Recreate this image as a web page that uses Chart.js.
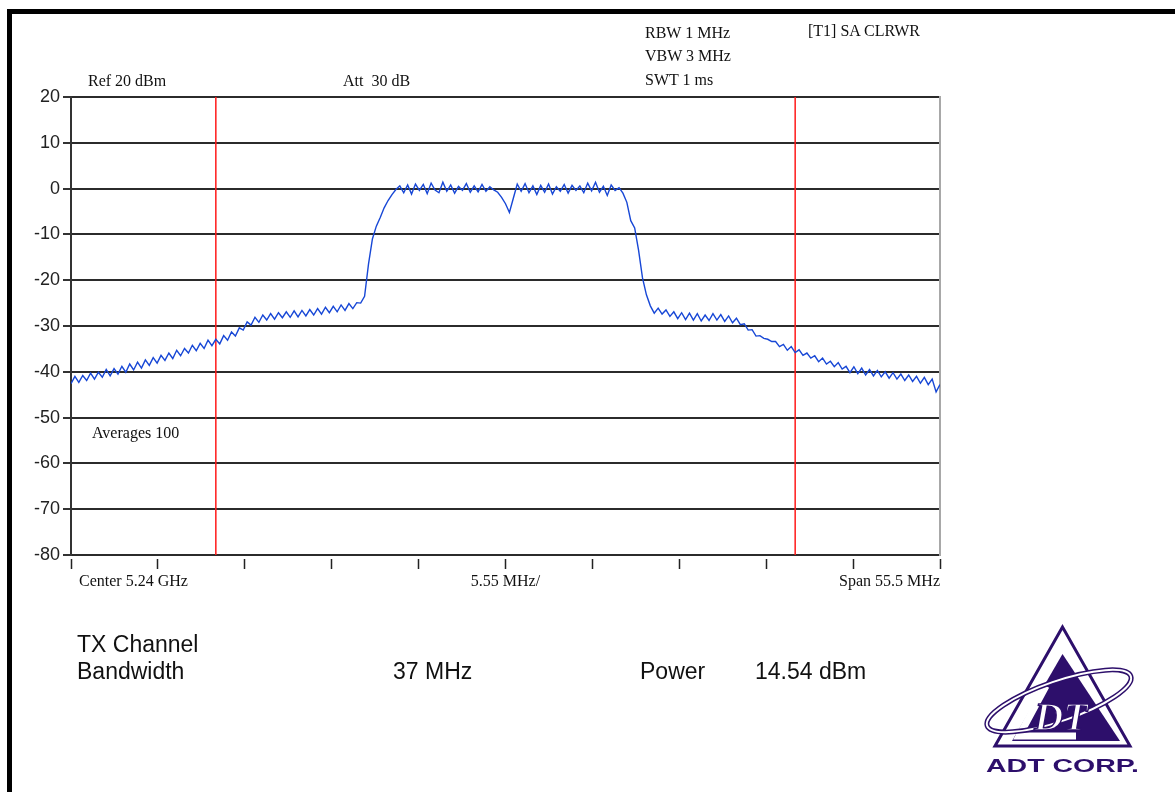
<!DOCTYPE html>
<html lang="en">
<head>
    <meta charset="UTF-8">
    <title>TX Channel spectrum</title>
    <script src="https://cdn.jsdelivr.net/npm/chart.js@4.4.1/dist/chart.umd.min.js"></script>
    <style>
        body { margin: 0; background: #fff; }
        #page { position: relative; width: 1175px; height: 792px; overflow: hidden; background: #fff; }
        #page canvas { position: absolute; left: 0; top: 0; }
        .bar { position: absolute; background: #000; }
        .lbl { position: absolute; font-family: "Liberation Serif", serif; font-size: 16px; color: #111; line-height: 16px; white-space: nowrap; }
        .big { position: absolute; font-family: "Liberation Sans", Arial, sans-serif; font-size: 23px; color: #111; line-height: 23px; white-space: nowrap; }
        #logo { position: absolute; left: 940px; top: 610px; }
    </style>
</head>
<body>
<div id="page">
    <canvas id="spectrum" width="1175" height="792"></canvas>

    <!-- frame -->
    <div class="bar" style="left:7px; top:9px; width:1168px; height:5px;"></div>
    <div class="bar" style="left:7px; top:9px; width:5px; height:783px;"></div>

    <!-- analyzer settings -->
    <div class="lbl" style="left:645px; top:25px;">RBW 1 MHz</div>
    <div class="lbl" style="left:645px; top:48px;">VBW 3 MHz</div>
    <div class="lbl" style="left:645px; top:72px;">SWT 1 ms</div>
    <div class="lbl" style="left:808px; top:23px;">[T1] SA CLRWR</div>
    <div class="lbl" style="left:88px; top:73px;">Ref 20 dBm</div>
    <div class="lbl" style="left:343px; top:73px;">Att&nbsp; 30 dB</div>
    <div class="lbl" style="left:92px; top:425px;">Averages 100</div>

    <!-- measurement result -->
    <div class="big" style="left:77px; top:633px;">TX Channel</div>
    <div class="big" style="left:77px; top:660px;">Bandwidth</div>
    <div class="big" style="left:393px; top:660px;">37 MHz</div>
    <div class="big" style="left:640px; top:660px;">Power</div>
    <div class="big" style="left:755px; top:660px;">14.54 dBm</div>

    <!-- logo -->
    <svg id="logo" width="235" height="182" viewBox="0 0 235 182">
        <polygon points="122.5,17 55,136 190,136" fill="none" stroke="#2d0f6b" stroke-width="3"/>
        <polygon points="122.5,44 72,131 180,131" fill="#2d0f6b"/>
        <polyline points="106,76 79,126 136,126" fill="none" stroke="#fff" stroke-width="7"/>
        <ellipse cx="119" cy="91" rx="76" ry="20" transform="rotate(-19 119 91)" fill="none" stroke="#2d0f6b" stroke-width="5"/>
        <ellipse cx="119" cy="91" rx="76" ry="20" transform="rotate(-19 119 91)" fill="none" stroke="#fff" stroke-width="2"/>
        <text x="121" y="120" text-anchor="middle" font-family="Liberation Serif, serif" font-weight="bold" font-style="italic" font-size="40" fill="#fff" stroke="#2d0f6b" stroke-width="1.5">DT</text>
        <text x="46" y="162" font-family="Liberation Sans, Arial, sans-serif" font-weight="bold" font-size="19" fill="#2d0f6b" textLength="153" lengthAdjust="spacingAndGlyphs">ADT CORP.</text>
    </svg>
</div>

<script>
    // sweep: center 5.24 GHz, span 55.5 MHz, one sample every 0.25 MHz (offset from center)
    const sweepStartMHz = -27.75;
    const sweepStepMHz = 0.25;

    // trace level in dBm per sample
    const levelDbm = [
        -42.6, -41.0, -42.3, -40.8, -41.9, -40.3, -41.6, -40.1, -41.2, -39.5,
        -40.9, -39.3, -40.5, -38.8, -40.1, -38.3, -39.6, -37.9, -39.2, -37.4,
        -38.6, -36.9, -38.1, -36.4, -37.5, -35.9, -37.1, -35.3, -36.5, -34.9,
        -35.9, -34.2, -35.4, -33.8, -34.9, -33.1, -34.3, -32.9, -33.9, -32.1,
        -33.1, -31.3, -32.2, -30.4, -30.9, -29.1, -29.8, -28.1, -29.2, -27.6,
        -28.7, -27.3, -28.5, -27.1, -28.2, -26.9, -28.1, -26.7, -28.0, -26.6,
        -27.8, -26.4, -27.6, -26.2, -27.4, -25.9, -27.1, -25.7, -26.9, -25.4,
        -26.6, -25.1, -26.2, -24.9, -25.0, -23.5, -16.5, -11.0, -8.2, -6.3,
        -4.2, -2.6, -1.3, -0.2, 0.6, -0.9, 0.8, -1.2, 1.0, -0.4,
        0.9, -1.1, 1.2, -0.3, -0.9, 1.4, -0.6, 0.8, -1.0, 0.5,
        -0.4, 1.1, -0.8, 0.6, -0.7, 0.9, -0.6, 0.4, -0.3, -0.8,
        -1.9, -3.3, -5.2, -2.1, 1.0, -0.6, 1.1, -0.9, 0.6, -1.3,
        0.7, -0.8, 1.0, -1.2, 0.4, -0.6, 0.9, -1.0, 0.7, -0.4,
        0.6, -0.9, 1.2, -0.5, 1.4, -0.8, 0.5, -1.5, 0.8, -0.4,
        0.2, -1.0, -3.0, -7.0, -8.6, -13.5, -19.5, -23.2, -25.6, -27.2,
        -26.1, -27.4, -26.5, -27.9, -26.9, -28.4, -27.1, -28.6, -27.2, -28.7,
        -27.3, -28.9, -27.6, -28.8, -27.3, -28.7, -27.5, -29.0, -27.8, -29.3,
        -28.3, -29.7, -29.5, -30.9, -30.8, -32.2, -32.1, -32.7, -32.9, -33.4,
        -33.4, -34.5, -34.0, -35.3, -34.5, -35.8, -35.2, -36.4, -35.9, -37.0,
        -36.5, -37.8, -37.0, -38.3, -37.7, -38.9, -38.0, -39.4, -38.8, -40.2,
        -38.9, -40.4, -39.2, -40.7, -39.5, -40.9, -39.7, -41.1, -40.0, -41.4,
        -40.2, -41.6, -40.5, -41.9, -40.7, -42.1, -41.0, -42.5, -41.2, -42.8,
        -41.6, -44.4, -42.8
    ];

    // channel limits (red lines), MHz from center
    const channelEdgesMHz = [-18.5, 18.5];

    // axis ticks
    const xTickValues = [-27.75, -22.2, -16.65, -11.1, -5.55, 0, 5.55, 11.1, 16.65, 22.2, 27.75];
    const xTickLabels = ['  Center 5.24 GHz', '', '', '', '', '5.55 MHz/', '', '', '', '', 'Span 55.5 MHz'];
    const yMin = -80;
    const yMax = 20;

    const trace = levelDbm.map((v, i) => ({ x: sweepStartMHz + i * sweepStepMHz, y: v }));

    const edgeSets = channelEdgesMHz.map(f => ({
        data: [{ x: f, y: yMin }, { x: f, y: yMax }],
        borderColor: '#ff1a1a',
        borderWidth: 1.5,
        pointRadius: 0
    }));

    const ctx = document.getElementById('spectrum').getContext('2d');
    new Chart(ctx, {
        type: 'line',
        data: {
            datasets: [{
                data: trace,
                borderColor: '#1747d6',
                borderWidth: 1.4,
                pointRadius: 0,
                tension: 0
            }].concat(edgeSets)
        },
        options: {
            responsive: false,
            animation: false,
            devicePixelRatio: 1,
            layout: { padding: { left: 0, top: 97, right: 234, bottom: 197 } },
            plugins: { legend: { display: false }, tooltip: { enabled: false } },
            scales: {
                x: {
                    type: 'linear',
                    min: sweepStartMHz,
                    max: -sweepStartMHz,
                    afterBuildTicks: s => { s.ticks = xTickValues.map(v => ({ value: v })); },
                    afterFit: s => { s.height = 40; },
                    border: { display: false },
                    grid: {
                        drawOnChartArea: false,
                        tickLength: 14,
                        tickColor: '#222',
                        tickWidth: 1.5,
                        tickBorderDash: [0, 4, 10, 100]
                    },
                    ticks: {
                        autoSkip: false,
                        maxRotation: 0,
                        align: 'inner',
                        padding: 3,
                        color: '#111',
                        font: { family: 'Liberation Serif', size: 16 },
                        callback: (v, i) => xTickLabels[i]
                    }
                },
                y: {
                    min: yMin,
                    max: yMax,
                    afterFit: s => { s.width = 71; },
                    border: { color: '#333', width: 2 },
                    grid: { color: '#2b2b2b', lineWidth: 2, tickLength: 8, tickColor: '#333' },
                    ticks: {
                        stepSize: 10,
                        padding: 3,
                        color: '#222',
                        font: { family: 'Liberation Sans', size: 18 }
                    }
                },
                yR: {
                    position: 'right',
                    min: yMin,
                    max: yMax,
                    afterFit: s => { s.width = 1; },
                    border: { color: '#a8a8a8', width: 2 },
                    grid: { drawOnChartArea: false, drawTicks: false },
                    ticks: { display: false }
                }
            }
        }
    });
</script>
</body>
</html>
